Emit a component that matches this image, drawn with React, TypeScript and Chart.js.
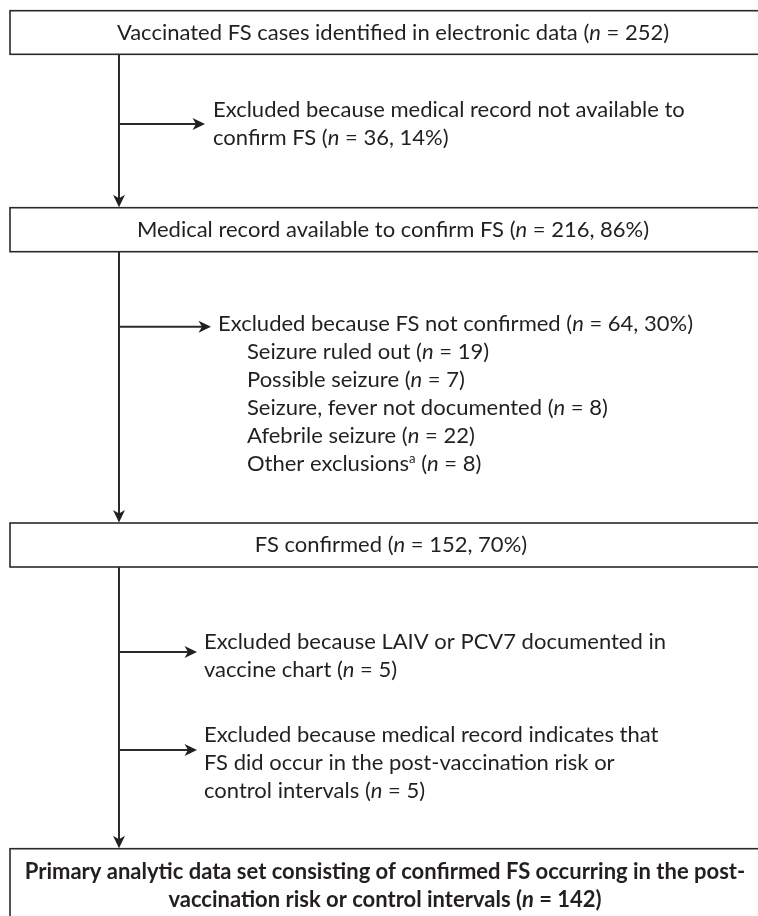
import React, { useEffect, useRef } from "react";
import { Chart, registerables } from "chart.js";

Chart.register(...registerables);

// ---------- data ----------
const stageLabels: string[][] = [
  ["Vaccinated FS cases identified in electronic data"],
  ["Medical record available to confirm FS"],
  ["FS confirmed"],
  ["Primary analytic data set consisting of confirmed FS occurring in the post-", "vaccination risk or control intervals"],
];
const stageCounts = [252, 216, 152, 142];
const stagePercents: (number | null)[] = [null, 86, 70, null];

const exclusionLabels: string[][] = [
  ["Excluded because medical record not available to", "confirm FS"],
  ["Excluded because FS not confirmed"],
  ["Excluded because LAIV or PCV7 documented in", "vaccine chart"],
  ["Excluded because medical record indicates that", "FS did occur in the post-vaccination risk or", "control intervals"],
];
const exclusionCounts = [36, 64, 5, 5];
const exclusionPercents: (number | null)[] = [14, 30, null, null];

const reasonLabels = ["Seizure ruled out", "Possible seizure", "Seizure, fever not documented", "Afebrile seizure", "Other exclusions"];
const reasonCounts = [19, 7, 8, 22, 8];
const reasonNotes = ["", "", "", "", "a"];

// ---------- layout (in chart value units) ----------
const W = 758;
const H = 916;
const boxLeft = 10;
const boxRight = 776;
const boxTops = [10.7, 207.7, 523, 848.7];
const boxBottoms = [54.3, 251.7, 567, 935];
const stageCenters = [393, 393, 391, 385];
const stageBaselines = [[40], [237], [552], [879, 907]];
const stemX = 119;
const exclArrowY = [124, 326.7, 652, 750];
const exclTipX = [205, 211, 197, 197];
const exclTextX = [213, 218, 204, 204];
const exclBaselines = [[117, 145], [331], [649, 677], [742, 770, 798]];
const reasonX = 247;
const reasonBaselines = [359, 387, 415, 443, 471];

const FONT = "Lato, 'Open Sans', sans-serif";
const SIZE = 22;
const BOLD_SIZE = 22;
const INK = "#231f20";

type Seg = { t: string; i?: boolean; sup?: boolean };

function nPart(n: number, pct: number | null): Seg[] {
  return [
    { t: " (" },
    { t: "n", i: true },
    { t: " = " + n + (pct !== null ? ", " + pct + "%" : "") + ")" },
  ];
}

function fontFor(s: Seg, bold: boolean) {
  const base = bold ? BOLD_SIZE : SIZE;
  const size = s.sup ? base * 0.6 : base;
  return `${s.i ? "italic " : ""}${bold ? "bold " : ""}${size}px ${FONT}`;
}

function drawRich(ctx: CanvasRenderingContext2D, segs: Seg[], x: number, y: number, align: "left" | "center", bold = false) {
  let total = 0;
  const widths = segs.map((s) => {
    ctx.font = fontFor(s, bold);
    const w = ctx.measureText(s.t).width;
    total += w;
    return w;
  });
  let cx = align === "center" ? x - total / 2 : x;
  segs.forEach((s, k) => {
    ctx.font = fontFor(s, bold);
    ctx.fillText(s.t, cx, s.sup ? y - SIZE * 0.38 : y);
    cx += widths[k];
  });
}

function arrowHead(ctx: CanvasRenderingContext2D, x: number, y: number, dir: "right" | "down") {
  const L = 12.5;
  const Hw = 6;
  const N = 9;
  ctx.beginPath();
  if (dir === "right") {
    ctx.moveTo(x, y);
    ctx.lineTo(x - L, y - Hw);
    ctx.lineTo(x - N, y);
    ctx.lineTo(x - L, y + Hw);
  } else {
    ctx.moveTo(x, y);
    ctx.lineTo(x - Hw, y - L);
    ctx.lineTo(x, y - N);
    ctx.lineTo(x + Hw, y - L);
  }
  ctx.closePath();
  ctx.fill();
}

const flowPlugin = {
  id: "flow",
  afterDraw(chart: any) {
    const ctx: CanvasRenderingContext2D = chart.ctx;
    const xs = chart.scales.x;
    const ys = chart.scales.y;
    const px = (v: number) => xs.getPixelForValue(v);
    const py = (v: number) => ys.getPixelForValue(v);
    ctx.save();
    ctx.fillStyle = "#ffffff";
    ctx.fillRect(0, 0, chart.width, chart.height);
    ctx.strokeStyle = "#2a2a2a";
    ctx.fillStyle = INK;
    ctx.textBaseline = "alphabetic";
    ctx.textAlign = "left";

    // boxes
    ctx.lineWidth = 1.6;
    stageLabels.forEach((lines, i) => {
      ctx.strokeRect(px(boxLeft), py(boxTops[i]), px(boxRight) - px(boxLeft), py(boxBottoms[i]) - py(boxTops[i]));
      const cx = px(stageCenters[i]);
      lines.forEach((ln, j) => {
        const segs: Seg[] = [{ t: ln }];
        if (j === lines.length - 1) segs.push(...nPart(stageCounts[i], stagePercents[i]));
        drawRich(ctx, segs, cx, py(stageBaselines[i][j]), "center", i === 3);
      });
    });

    // vertical stems with arrows
    ctx.lineWidth = 2;
    for (let i = 0; i < stageLabels.length - 1; i++) {
      ctx.beginPath();
      ctx.moveTo(px(stemX), py(boxBottoms[i]));
      ctx.lineTo(px(stemX), py(boxTops[i + 1]) - 6);
      ctx.stroke();
      arrowHead(ctx, px(stemX), py(boxTops[i + 1]) - 0.5, "down");
    }

    // exclusion arrows and texts
    exclusionLabels.forEach((lines, i) => {
      const y = py(exclArrowY[i]);
      ctx.beginPath();
      ctx.moveTo(px(stemX), y);
      ctx.lineTo(px(exclTipX[i]) - 6, y);
      ctx.stroke();
      arrowHead(ctx, px(exclTipX[i]), y, "right");
      lines.forEach((ln, j) => {
        const segs: Seg[] = [{ t: ln }];
        if (j === lines.length - 1) segs.push(...nPart(exclusionCounts[i], exclusionPercents[i]));
        drawRich(ctx, segs, px(exclTextX[i]), py(exclBaselines[i][j]), "left");
      });
    });

    // sub reasons
    reasonLabels.forEach((lab, k) => {
      const segs: Seg[] = [{ t: lab }];
      if (reasonNotes[k]) segs.push({ t: reasonNotes[k], sup: true });
      segs.push(...nPart(reasonCounts[k], null));
      drawRich(ctx, segs, px(reasonX), py(reasonBaselines[k]), "left");
    });
    ctx.restore();
  },
};

export default function App() {
  const ref = useRef<HTMLCanvasElement | null>(null);
  useEffect(() => {
    if (!ref.current) return;
    const chart = new Chart(ref.current, {
      type: "scatter",
      data: { datasets: [] },
      options: {
        animation: false,
        responsive: true,
        maintainAspectRatio: false,
        layout: { padding: 0 },
        plugins: { legend: { display: false }, tooltip: { enabled: false } },
        scales: {
          x: { type: "linear", min: 0, max: W, display: false },
          y: { type: "linear", min: 0, max: H, reverse: true, display: false },
        },
      },
      plugins: [flowPlugin],
    } as any);
    return () => chart.destroy();
  }, []);
  return (
    <div style={{ position: "absolute", left: 0, top: 0, width: W, height: H, overflow: "hidden", background: "#fff" }}>
      <canvas ref={ref} />
    </div>
  );
}
